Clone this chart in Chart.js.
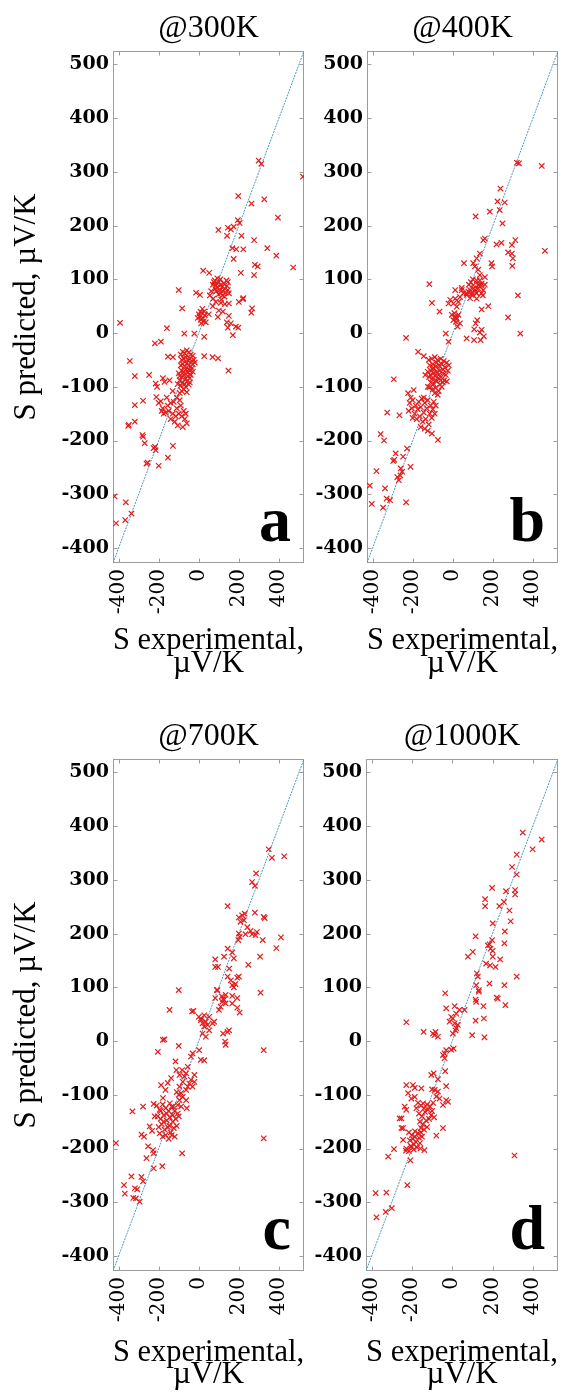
<!DOCTYPE html>
<html><head><meta charset="utf-8">
<script src="https://cdn.jsdelivr.net/npm/chart.js@4.4.1/dist/chart.umd.min.js"></script>
<style>
html,body{margin:0;padding:0;background:#fff;}
#wrap{position:relative;width:566px;height:1392px;overflow:hidden;background:#fff;}
canvas{position:absolute;}
</style></head><body>
<div id="wrap">
<canvas id="cA" width="309" height="696" style="left:0;top:0"></canvas>
<canvas id="cB" width="257" height="696" style="left:309px;top:0"></canvas>
<canvas id="cC" width="309" height="696" style="left:0;top:696px"></canvas>
<canvas id="cD" width="257" height="696" style="left:309px;top:696px"></canvas>
</div>
<script>
// ---------------- data ----------------
const panelTitles = ['@300K', '@400K', '@700K', '@1000K'];
const panelLetters = ['a', 'b', 'c', 'd'];
const xTickValues = [-400, -200, 0, 200, 400];
const yTickValues = [-400, -300, -200, -100, 0, 100, 200, 300, 400, 500];
const axisRange = [-428, 525];
const diagonal = [-428, 525];
const xAxisTitle = ['S experimental,', 'µV/K'];
const yAxisTitle = 'S predicted, µV/K';

// [S experimental, S predicted] pairs
const s300 = [
[299,321],[312,315],[197,255],[263,241],[327,249],[395,215],[195,210],[204,205],[98,192],[145,196],[160,193],[174,198],[141,181],[213,181],[276,173],[168,158],[187,156],[222,156],[342,158],[387,144],[174,138],[280,127],[294,124],[210,112],[276,108],[22,116],[52,112],[-100,80],[-14,75],[6,71],[222,65],[520,291],[471,122],[200,58],[266,46],[262,38],[220,63],
[70,90],[75,95],[80,98],[85,88],[90,92],[95,85],[100,95],[105,80],[110,90],[115,85],[120,78],[125,92],[130,82],[135,75],[140,88],[145,80],[150,74],[88,78],[98,72],[108,100],[118,70],[128,68],[138,98],[92,102],[82,82],[62,78],[55,70],[72,64],[112,62],[145,95],
[-83,46],[27,40],[50,35],[70,50],[85,58],[100,42],[110,56],[130,54],[150,55],[120,40],[95,30],[150,32],[110,74],[197,10],[140,20],[145,10],[160,18],[170,-4],[185,12],
[0,35],[5,30],[10,25],[15,38],[20,28],[25,22],[8,40],[30,33],[12,18],[-5,28],[18,45],[35,20],
[-393,19],[-219,-19],[-189,-16],[-159,9],[-72,-1],[-22,-1],[27,-7],[-344,-52],[-319,-80],[-248,-78],[27,-43],[69,-45],[96,-47],[148,-70],[-154,-44],[-129,-45],
[-90,-40],[-80,-35],[-70,-38],[-60,-32],[-50,-36],[-40,-40],[-30,-42],[-85,-50],[-75,-48],[-65,-45],[-55,-50],[-45,-48],[-35,-52],[-25,-50],[-90,-60],[-80,-58],[-70,-62],[-60,-56],[-50,-60],[-40,-62],[-30,-58],[-20,-55],[-85,-70],[-75,-72],[-65,-68],[-55,-74],[-45,-70],[-35,-66],[-95,-80],[-85,-82],[-75,-78],[-65,-85],[-55,-80],[-45,-84],[-60,-90],[-70,-95],[-80,-92],[-90,-98],[-50,-96],[-75,-105],[-85,-108],[-65,-100],[-95,-88],[-100,-75],[-40,-78],[-30,-72],[-105,-95],[-60,-110],[-45,-92],[-50,-68],
[-212,-119],[-190,-127],[-179,-84],[-171,-91],[-146,-88],[-215,-94],[-208,-100],[-180,-140],[-165,-148],[-150,-145],[-140,-130],[-125,-128],[-110,-140],[-100,-150],[-90,-135],[-85,-155],[-70,-160],[-60,-168],[-75,-145],[-95,-125],[-115,-155],[-130,-150],[-120,-165],[-105,-172],[-155,-135],[-175,-150],[-160,-120],[-200,-130],[-185,-145],[-140,-160],[-80,-175],[-65,-150],[-95,-112],[-110,-120],[-130,-108],
[-319,-134],[-278,-126],[-352,-173],[-349,-171],[-319,-165],[-281,-190],[-278,-193],[-270,-205],[-225,-214],[-218,-212],[-215,-218],[-261,-243],[-255,-241],[-200,-247],[-154,-232],[-129,-210],[-420,-304],[-364,-315],[-367,-348],[-413,-354],[-336,-336]
];

const s400 = [
[320,317],[330,316],[444,311],[238,269],[223,245],[259,243],[234,229],[185,226],[114,217],[248,204],[152,173],[160,176],[218,165],[243,168],[312,173],[295,164],[460,153],[276,150],[295,148],[300,139],[297,125],[135,148],[119,139],[102,130],[56,130],[193,130],[196,124],
[110,124],[127,118],[135,108],[119,98],[143,89],[102,89],[86,80],[69,74],[94,71],[127,83],[152,80],[45,84],[12,80],[160,104],[135,98],[143,74],[119,64],[100,100],[115,75],[150,70],[90,95],[130,90],[160,90],[80,90],
[-117,91],[325,70],[276,29],[337,-1],[177,50],[144,44],
[78,77],[94,74],[110,80],[119,74],[135,86],[144,92],[70,71],[104,83],[127,89],[53,74],[86,65],[45,80],
[-104,56],[-66,40],[-13,62],[3,55],[12,64],[28,58],[36,67],[20,49],[-21,55],
[-5,34],[12,31],[20,27],[3,24],[16,21],[28,34],[36,18],[8,37],[24,12],[14,28],
[69,-10],[106,-13],[114,18],[122,24],[144,6],[139,-13],[155,-6],[107,7],[135,1],
[-35,-1],[-21,-16],[-233,-9],[-173,-35],[-145,-43],[-137,-78],[-294,-86],
[-120,-50],[-105,-48],[-90,-45],[-75,-50],[-60,-48],[-45,-52],[-30,-55],[-20,-60],[-115,-60],[-100,-58],[-85,-62],[-70,-60],[-55,-58],[-40,-64],[-25,-70],[-125,-72],[-110,-70],[-95,-74],[-80,-72],[-65,-70],[-50,-75],[-35,-78],[-118,-82],[-103,-85],[-88,-80],[-73,-84],[-58,-82],[-43,-88],[-110,-92],[-95,-95],[-80,-90],[-65,-96],[-50,-92],[-100,-105],[-85,-102],[-70,-108],[-55,-100],[-90,-112],[-75,-115],[-60,-88],[-95,-65],[-80,-55],[-70,-78],[-100,-68],[-85,-88],[-65,-62],[-48,-68],[-112,-78],[-30,-90],[-124,-100],[-117,-101],
[-223,-112],[-195,-106],
[-215,-130],[-200,-125],[-185,-135],[-170,-128],[-155,-122],[-140,-130],[-125,-125],[-110,-135],[-95,-128],[-220,-145],[-205,-140],[-190,-150],[-175,-142],[-160,-138],[-145,-148],[-130,-140],[-115,-150],[-100,-142],[-85,-135],[-200,-158],[-180,-160],[-165,-155],[-150,-165],[-135,-160],[-120,-170],[-105,-158],[-140,-178],[-160,-175],[-125,-182],[-210,-120],[-90,-150],[-145,-120],
[-327,-148],[-266,-153],[-104,-187],[-74,-199],[-360,-188],[-343,-200],[-285,-224],[-248,-230],[-228,-215],[-297,-238],[-292,-236],[-211,-249],[-260,-252],[-252,-258],[-381,-257],[-277,-268],[-269,-274],[-261,-265],[-414,-284],[-338,-289],[-330,-308],[-313,-311],[-404,-318],[-348,-325],[-233,-315]
];

const s700 = [
[349,357],[365,341],[426,344],[286,312],[266,296],[280,289],[144,251],[200,230],[216,234],[229,237],[208,222],[225,225],[280,239],[324,231],[329,229],[242,212],[258,205],[233,199],[266,199],[283,197],[290,203],[319,188],[410,193],[387,173],[200,200],[204,194],[197,188],[144,172],[167,165],[175,154],[82,152],[96,138],[82,138],[126,157],[306,157],[247,142],[152,135],[144,120],[160,113],[167,104],[175,100],[183,106],[192,118],[200,120],[90,95],[-100,95],[308,90],[82,80],[121,78],[167,84],[192,80],
[93,95],[115,83],[126,77],[134,70],[109,64],[117,73],[101,58],[134,86],[167,70],[192,62],[204,53],[-146,58],[-34,55],[-27,56],
[0,45],[11,39],[19,33],[27,27],[35,36],[44,30],[52,20],[19,14],[11,42],[35,8],[52,45],[69,33],[77,36],[27,48],
[121,14],[131,-1],[134,-7],[151,20],[143,17],[324,-17],[-179,2],[-171,3],[-100,-9],[-204,-20],[2,-17],[10,-35],[27,-36],[-31,-23],[-39,-29],
[-116,-38],[-112,-54],[-96,-63],[-83,-54],[-63,-60],[-55,-48],[-72,-66],[-39,-72],[-22,-63],[-31,-85],[-47,-79],[-63,-91],[-22,-76],[-80,-76],[-96,-85],[-55,-85],
[-138,-69],[-155,-78],[-166,-91],[-188,-82],[-179,-106],
[-88,-97],[-96,-110],[-80,-104],[-105,-119],[-129,-122],[-145,-116],[-88,-122],[-63,-110],[-60,-125],[-100,-100],[-110,-95],
[-210,-120],[-195,-128],[-180,-118],[-165,-125],[-150,-130],[-135,-122],[-120,-130],[-105,-135],[-205,-140],[-190,-145],[-175,-138],[-160,-148],[-145,-142],[-130,-150],[-115,-145],[-100,-140],[-200,-160],[-185,-155],[-170,-165],[-155,-160],[-140,-170],[-125,-162],[-110,-158],[-195,-172],[-180,-178],[-165,-175],[-150,-182],[-135,-175],[-120,-178],[-190,-130],[-175,-150],[-160,-135],[-145,-158],[-130,-138],
[324,-181],[-233,-167],[-273,-178],[-286,-174],[-245,-159],[-220,-140],[-225,-117],[-331,-131],[-278,-122],[-413,-190],[-261,-218],[-253,-196],[-228,-203],[-225,-209],[-83,-209],[-225,-237],[-182,-233],[-336,-252],[-286,-253],[-278,-261],[-373,-268],[-369,-284],[-319,-274],[-307,-276],[-327,-292],[-314,-293],[-295,-299]
];

const s1000 = [
[350,388],[444,375],[399,357],[320,347],[297,324],[320,310],[198,285],[267,279],[312,281],[312,273],[163,264],[163,251],[257,259],[234,251],[284,243],[201,219],[290,223],[261,204],[116,195],[177,178],[185,180],[198,188],[190,172],[201,168],[259,182],[102,166],[78,157],[168,144],[188,141],[201,157],[215,138],[238,152],[122,126],[127,120],[132,95],[119,104],[185,107],[259,104],[320,120],[-35,89],[221,81],[116,77],
[132,92],[-30,61],[12,65],[20,51],[36,58],[61,58],[3,42],[12,33],[20,24],[-5,45],[3,14],[16,20],[28,30],[-13,36],[119,73],[155,65],[226,79],[264,67],[116,38],[157,42],[99,11],[160,7],[-228,35],[-142,17],[-96,14],[-88,11],[-83,17],[-71,8],
[-46,-26],[-38,-23],[-30,-17],[-38,-32],[-5,-16],[7,-14],
[-104,-63],[-92,-60],[-71,-71],[-35,-56],[-30,-84],[-100,-90],[-87,-91],[-71,-94],[-79,-103],[-63,-107],[-30,-110],[-21,-113],[-46,-119],
[-228,-82],[-195,-82],[-186,-87],[-153,-88],[-219,-97],[-203,-107],[-186,-104],[-236,-122],[-228,-128],[-178,-125],[-145,-116],
[-170,-115],[-155,-120],[-140,-125],[-125,-118],[-110,-122],[-95,-115],[-165,-135],[-150,-140],[-135,-132],[-120,-128],[-105,-138],[-160,-150],[-145,-155],[-130,-148],[-115,-145],[-155,-162],[-140,-165],[-125,-160],[-100,-130],[-90,-142],
[-261,-144],[-252,-144],[-252,-162],[-244,-162],[-46,-162],[-79,-176],
[-215,-170],[-200,-175],[-185,-168],[-170,-172],[-155,-170],[-210,-185],[-195,-182],[-180,-188],[-165,-180],[-150,-178],[-205,-195],[-190,-192],[-175,-198],[-160,-190],[-185,-178],
[-244,-184],[-230,-204],[-228,-200],[-203,-197],[-215,-205],[-191,-202],[-158,-200],[-138,-203],[-208,-222],[-318,-215],[-289,-201],[309,-213],[-223,-268],[-380,-283],[-327,-282],[-300,-311],[-330,-318],[-376,-328]
];

const seriesList = [s300, s400, s700, s1000];

// ---------------- layout / style ----------------
const panels = [
  {canvas: 'cA', yAxisW: 113, padR: 3, titlePad: {top: 9.3, bottom: 3.3}, xAxisH: 133, xTitlePadB: 21.3, yTitle: true},
  {canvas: 'cB', yAxisW: 58,  padR: 8, titlePad: {top: 9.3, bottom: 3.3}, xAxisH: 133, xTitlePadB: 21.3, yTitle: false},
  {canvas: 'cC', yAxisW: 113, padR: 3, titlePad: {top: 21.0, bottom: 3.6}, xAxisH: 121, xTitlePadB: 6.0,  yTitle: true},
  {canvas: 'cD', yAxisW: 57,  padR: 8, titlePad: {top: 21.0, bottom: 3.6}, xAxisH: 121, xTitlePadB: 6.0,  yTitle: false}
];

const SERIF = "'Liberation Serif', 'Times New Roman', serif";
const TICKFONT = "'DejaVu Serif', serif";

const framePlugin = {
  id: 'frame',
  beforeDatasetsDraw(chart) {
    const {ctx, chartArea: a, scales} = chart;
    const x = scales.x, y = scales.y;
    ctx.save();
    ctx.strokeStyle = '#9c9c9c';
    ctx.lineWidth = 1;
    const l = Math.round(a.left) + 0.5, r = Math.round(a.right) - 0.5;
    const t = Math.round(a.top) + 0.5, b = Math.round(a.bottom) - 0.5;
    ctx.strokeRect(l, t, r - l, b - t);
    const tl = 4;
    ctx.beginPath();
    x.ticks.forEach(tk => {
      const px = Math.round(x.getPixelForValue(tk.value)) + 0.5;
      ctx.moveTo(px, b); ctx.lineTo(px, b - tl);
      ctx.moveTo(px, t); ctx.lineTo(px, t + tl);
    });
    y.ticks.forEach(tk => {
      const py = Math.round(y.getPixelForValue(tk.value)) + 0.5;
      ctx.moveTo(l, py); ctx.lineTo(l + tl, py);
      ctx.moveTo(r, py); ctx.lineTo(r - tl, py);
    });
    ctx.stroke();
    ctx.restore();
  },
  afterDraw(chart) {
    const letter = chart.options.plugins.frame && chart.options.plugins.frame.letter;
    if (!letter) return;
    const {ctx, chartArea: a} = chart;
    ctx.save();
    ctx.font = "bold 64px " + SERIF;
    ctx.fillStyle = '#000';
    ctx.textAlign = 'right';
    ctx.textBaseline = 'alphabetic';
    ctx.fillText(letter, a.right - 13, a.bottom - 22);
    ctx.restore();
  }
};

panels.forEach((p, i) => {
  const pts = seriesList[i].map(d => ({x: d[0], y: d[1]}));
  const diag = diagonal.map(v => ({x: v, y: v}));
  new Chart(document.getElementById(p.canvas), {
    type: 'scatter',
    data: {
      datasets: [
        {
          label: 'data',
          data: pts,
          pointStyle: 'crossRot',
          pointRadius: 3.8,
          pointHoverRadius: 3.8,
          borderColor: '#e31c1c',
          backgroundColor: '#e31c1c',
          pointBorderWidth: 1.2,
          showLine: false,
          order: 0
        },
        {
          label: 'y = x',
          data: diag,
          type: 'line',
          showLine: true,
          borderColor: '#4b98c4',
          borderWidth: 1,
          borderDash: [2, 1],
          pointRadius: 0,
          fill: false,
          order: 1
        }
      ]
    },
    options: {
      responsive: false,
      animation: false,
      devicePixelRatio: 1,
      layout: {padding: {left: 0, right: p.padR, top: 0, bottom: 0}},
      plugins: {
        legend: {display: false},
        tooltip: {enabled: false},
        title: {
          display: true,
          text: panelTitles[i],
          fullSize: false,
          color: '#000',
          font: {family: SERIF, size: 32, weight: 'normal', lineHeight: 1.2},
          padding: p.titlePad
        },
        frame: {letter: panelLetters[i]}
      },
      scales: {
        x: {
          type: 'linear',
          position: 'bottom',
          min: axisRange[0],
          max: axisRange[1],
          grid: {display: false, drawTicks: false},
          border: {display: false},
          afterBuildTicks: s => { s.ticks = xTickValues.map(v => ({value: v})); },
          afterFit: s => { s.height = p.xAxisH; s.paddingLeft = 0; s.paddingRight = 0; },
          ticks: {
            autoSkip: false,
            minRotation: 90,
            maxRotation: 90,
            padding: 6,
            color: '#000',
            font: {family: TICKFONT, size: 20, weight: 'normal'}
          },
          title: {
            display: true,
            text: xAxisTitle,
            color: '#000',
            font: {family: SERIF, size: 31, weight: 'normal', lineHeight: 0.72},
            padding: {top: 0, bottom: p.xTitlePadB}
          }
        },
        y: {
          type: 'linear',
          position: 'left',
          min: axisRange[0],
          max: axisRange[1],
          grid: {display: false, drawTicks: false},
          border: {display: false},
          afterBuildTicks: s => { s.ticks = yTickValues.map(v => ({value: v})); },
          afterFit: s => { s.width = p.yAxisW; s.paddingTop = 0; s.paddingBottom = 0; },
          ticks: {
            autoSkip: false,
            padding: 4,
            color: '#000',
            font: {family: TICKFONT, size: 19, weight: 'bold'}
          },
          title: {
            display: p.yTitle,
            text: yAxisTitle,
            color: '#000',
            font: {family: SERIF, size: 31, weight: 'normal', lineHeight: 1.2},
            padding: {top: 8.4, bottom: 0}
          }
        }
      }
    },
    plugins: [framePlugin]
  });
});
</script>
</body></html>
